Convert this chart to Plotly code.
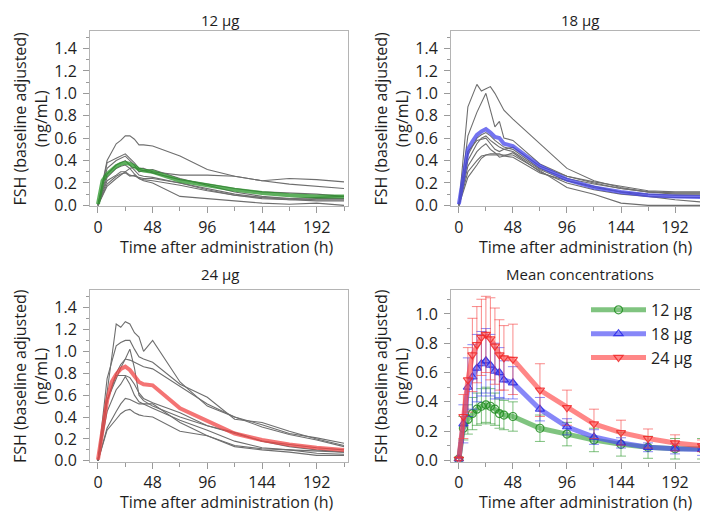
import plotly.graph_objects as go

# ---------------- data ----------------
# individual sampling times (h)
ind_times = [0, 8, 16, 20, 24, 28, 32, 36, 40, 48, 72, 96, 120, 144, 168, 192, 216]

subj_12 = [
    [0, 0.40, 0.55, 0.58, 0.62, 0.62, 0.59, 0.54, 0.54, 0.53, 0.44, 0.32, 0.26, 0.22, 0.19, 0.17, 0.15],
    [0, 0.38, 0.42, 0.44, 0.46, 0.42, 0.38, 0.33, 0.33, 0.30, 0.27, 0.27, 0.26, 0.22, 0.24, 0.23, 0.21],
    [0, 0.33, 0.40, 0.42, 0.44, 0.40, 0.36, 0.30, 0.31, 0.32, 0.24, 0.18, 0.12, 0.08, 0.06, 0.05, 0.05],
    [0, 0.28, 0.36, 0.38, 0.40, 0.36, 0.31, 0.27, 0.26, 0.25, 0.20, 0.15, 0.10, 0.07, 0.05, 0.04, 0.04],
    [0, 0.22, 0.27, 0.30, 0.30, 0.27, 0.26, 0.25, 0.24, 0.24, 0.20, 0.14, 0.09, 0.06, 0.05, 0.06, 0.06],
    [0, 0.17, 0.24, 0.27, 0.30, 0.33, 0.28, 0.24, 0.23, 0.22, 0.18, 0.13, 0.09, 0.07, 0.06, 0.07, 0.08],
    [0, 0.19, 0.26, 0.28, 0.29, 0.26, 0.27, 0.24, 0.22, 0.20, 0.08, 0.06, 0.04, 0.02, 0.01, 0.02, 0.00],
    [0, 0.25, 0.33, 0.35, 0.36, 0.33, 0.34, 0.32, 0.31, 0.29, 0.23, 0.19, 0.15, 0.12, 0.11, 0.10, 0.08],
]

subj_18 = [
    [0, 0.88, 1.08, 1.02, 1.04, 1.06, 1.00, 0.93, 0.85, 0.77, 0.55, 0.33, 0.22, 0.16, 0.12, 0.10, 0.10],
    [0, 0.62, 0.83, 0.92, 1.00, 0.85, 0.70, 0.75, 0.60, 0.58, 0.37, 0.26, 0.20, 0.15, 0.12, 0.11, 0.11],
    [0, 0.45, 0.60, 0.63, 0.65, 0.62, 0.58, 0.55, 0.52, 0.50, 0.33, 0.24, 0.19, 0.15, 0.12, 0.11, 0.11],
    [0, 0.40, 0.55, 0.60, 0.62, 0.58, 0.55, 0.52, 0.50, 0.48, 0.32, 0.22, 0.16, 0.12, 0.10, 0.09, 0.09],
    [0, 0.35, 0.48, 0.52, 0.55, 0.50, 0.47, 0.43, 0.44, 0.47, 0.30, 0.20, 0.14, 0.10, 0.08, 0.07, 0.07],
    [0, 0.30, 0.40, 0.44, 0.45, 0.45, 0.45, 0.45, 0.45, 0.45, 0.31, 0.16, 0.10, 0.02, 0.00, 0.00, 0.00],
    [0, 0.25, 0.36, 0.42, 0.45, 0.46, 0.46, 0.46, 0.44, 0.43, 0.29, 0.22, 0.17, 0.12, 0.08, 0.05, 0.03],
    [0, 0.48, 0.58, 0.59, 0.60, 0.55, 0.50, 0.48, 0.50, 0.52, 0.35, 0.26, 0.21, 0.17, 0.13, 0.12, 0.12],
]

subj_24 = [
    [0, 0.65, 1.25, 1.22, 1.27, 1.25, 1.17, 1.13, 1.00, 1.10, 0.72, 0.50, 0.40, 0.33, 0.25, 0.21, 0.16],
    [0, 0.75, 1.05, 1.08, 1.10, 1.10, 1.02, 0.95, 0.93, 0.90, 0.70, 0.58, 0.38, 0.35, 0.27, 0.20, 0.14],
    [0, 0.55, 0.75, 0.85, 0.93, 1.02, 0.85, 0.60, 0.55, 0.50, 0.40, 0.32, 0.25, 0.18, 0.15, 0.12, 0.10],
    [0, 0.55, 0.80, 0.88, 0.93, 0.92, 0.90, 0.88, 0.86, 0.84, 0.68, 0.52, 0.40, 0.31, 0.24, 0.19, 0.13],
    [0, 0.55, 0.78, 0.78, 0.78, 0.76, 0.70, 0.62, 0.57, 0.53, 0.44, 0.32, 0.26, 0.18, 0.13, 0.10, 0.08],
    [0, 0.45, 0.65, 0.70, 0.77, 0.70, 0.60, 0.54, 0.52, 0.48, 0.37, 0.28, 0.18, 0.12, 0.10, 0.07, 0.06],
    [0, 0.30, 0.45, 0.52, 0.57, 0.56, 0.54, 0.52, 0.52, 0.52, 0.35, 0.23, 0.14, 0.11, 0.10, 0.09, 0.08],
    [0, 0.28, 0.38, 0.43, 0.46, 0.47, 0.44, 0.42, 0.41, 0.40, 0.27, 0.23, 0.13, 0.10, 0.08, 0.05, 0.05],
]

# mean concentrations
mean_times = [0, 4, 8, 12, 16, 20, 24, 28, 32, 36, 40, 48, 72, 96, 120, 144, 168, 192, 216]
mean_12 = [0.01, 0.22, 0.28, 0.32, 0.35, 0.37, 0.38, 0.37, 0.35, 0.32, 0.31, 0.30, 0.22, 0.18, 0.14, 0.11, 0.09, 0.08, 0.08]
sd_12 = [0.01, 0.08, 0.10, 0.11, 0.11, 0.12, 0.12, 0.12, 0.11, 0.10, 0.10, 0.10, 0.09, 0.08, 0.08, 0.08, 0.075, 0.07, 0.07]
mean_18 = [0.01, 0.25, 0.50, 0.57, 0.63, 0.66, 0.68, 0.65, 0.61, 0.60, 0.55, 0.53, 0.35, 0.23, 0.16, 0.12, 0.09, 0.08, 0.075]
sd_18 = [0.01, 0.13, 0.20, 0.22, 0.23, 0.22, 0.22, 0.21, 0.19, 0.17, 0.13, 0.11, 0.08, 0.055, 0.05, 0.035, 0.03, 0.035, 0.04]
mean_24 = [0.01, 0.30, 0.55, 0.72, 0.79, 0.84, 0.86, 0.83, 0.78, 0.72, 0.70, 0.69, 0.48, 0.36, 0.25, 0.19, 0.15, 0.12, 0.10]
sd_24 = [0.01, 0.15, 0.22, 0.25, 0.26, 0.26, 0.26, 0.28, 0.26, 0.24, 0.22, 0.24, 0.18, 0.12, 0.10, 0.085, 0.065, 0.055, 0.04]

dose_labels = ["12 µg", "18 µg", "24 µg"]
panel_titles = ["12 µg", "18 µg", "24 µg", "Mean concentrations"]
x_ticks = [0, 48, 96, 144, 192]
x_title = "Time after administration (h)"
y_title = "FSH (baseline adjusted)<br>(ng/mL)"

# ---------------- styling ----------------
W, H = 708, 517
FONT = "Open Sans"
TXT = "#1e1e1e"
GRAY = "#6e6e6e"
ind_colors = ["rgba(40,150,40,0.75)", "rgba(70,70,235,0.75)", "rgba(240,70,70,0.75)"]
mean_line_colors = ["rgba(60,165,60,0.65)", "rgba(70,70,245,0.65)", "rgba(255,70,70,0.65)"]
mean_mark_colors = ["rgba(30,140,30,0.85)", "rgba(40,40,230,0.85)", "rgba(240,40,40,0.85)"]
err_colors = ["rgba(40,150,40,0.6)", "rgba(60,60,240,0.6)", "rgba(245,60,60,0.6)"]
symbols = ["circle-open", "triangle-up-open", "triangle-down-open"]

# panel boxes in pixels: (left, right, top, bottom)
boxes = [(82, 340, 23, 202), (443, 698, 23, 202), (82, 340, 287, 462), (443, 698, 287, 462)]
title_tops = [0, 0, 258, 258]

def px_x(v):
    return v / W

def px_y(v):
    return 1 - v / H

fig = go.Figure()

# individual panels
for k, subjects in enumerate([subj_12, subj_18, subj_24]):
    ax = "" if k == 0 else str(k + 1)
    for s in subjects:
        fig.add_trace(go.Scatter(
            x=ind_times, y=s, mode="lines",
            line=dict(color=GRAY, width=1.1),
            xaxis="x" + ax, yaxis="y" + ax, showlegend=False, hoverinfo="skip"))
    mean = [mean_12, mean_18, mean_24][k]
    fig.add_trace(go.Scatter(
        x=mean_times, y=mean, mode="lines",
        line=dict(color=ind_colors[k], width=4),
        xaxis="x" + ax, yaxis="y" + ax, showlegend=False, hoverinfo="skip"))

# mean panel
for k, (m, sd) in enumerate([(mean_12, sd_12), (mean_18, sd_18), (mean_24, sd_24)]):
    fig.add_trace(go.Scatter(
        x=mean_times, y=m, mode="lines+markers", name=dose_labels[k],
        line=dict(color=mean_line_colors[k], width=5),
        marker=dict(symbol=symbols[k], size=8, color=mean_mark_colors[k], line=dict(width=1.2)),
        error_y=dict(type="data", array=sd, visible=True, color=err_colors[k], thickness=1, width=5),
        xaxis="x4", yaxis="y4"))

axis_common = dict(
    showline=True, mirror=True, linecolor="#b4b4b4", linewidth=1,
    showgrid=False, zeroline=False, ticks="outside", tickcolor="#9a9a9a",
    ticklen=6, tickwidth=1, tickfont=dict(family=FONT, size=16, color=TXT),
)

layout = dict(
    width=W, height=H, margin=dict(l=0, r=0, t=0, b=0),
    paper_bgcolor="white", plot_bgcolor="white",
    font=dict(family=FONT, size=16, color=TXT),
    legend=dict(x=px_x(578), y=px_y(290), xanchor="left", yanchor="top",
                bgcolor="rgba(0,0,0,0)", font=dict(family=FONT, size=16, color=TXT),
                itemwidth=55, tracegroupgap=0),
    annotations=[],
)

for i, (l, r, t, b) in enumerate(boxes):
    sfx = "" if i == 0 else str(i + 1)
    yr = [-0.01, 1.56] if i < 3 else [-0.01, 1.163]
    ytv = [0, 0.2, 0.4, 0.6, 0.8, 1.0, 1.2, 1.4] if i < 3 else [0, 0.2, 0.4, 0.6, 0.8, 1.0]
    layout["xaxis" + sfx] = dict(
        axis_common, domain=[px_x(l), px_x(r)], range=[-7, 219.5],
        tickvals=x_ticks, anchor="y" + sfx,
        minor=dict(dtick=24, tick0=0, ticklen=4, tickcolor="#9a9a9a", ticks="outside", showgrid=False))
    layout["yaxis" + sfx] = dict(
        axis_common, domain=[px_y(b), px_y(t)], range=yr,
        tickvals=ytv, tickformat=".1f", anchor="x" + sfx, ticklabelstandoff=3,
        minor=dict(dtick=0.1, tick0=0, ticklen=3, tickcolor="#9a9a9a", ticks="outside", showgrid=False))
    # titles
    cx = (l + r) / 2
    layout["annotations"].append(dict(
        text=panel_titles[i], x=px_x(cx + 1), y=px_y(title_tops[i]), xref="paper", yref="paper",
        xanchor="center", yanchor="top", showarrow=False, font=dict(family=FONT, size=15, color=TXT)))
    layout["annotations"].append(dict(
        text=x_title, x=px_x(cx + 7), y=px_y(b + 41), xref="paper", yref="paper",
        xanchor="center", yanchor="middle", showarrow=False, font=dict(family=FONT, size=16, color=TXT)))
    layout["annotations"].append(dict(
        text=y_title, x=px_x(l - 59), y=px_y((t + b) / 2), xref="paper", yref="paper",
        xanchor="center", yanchor="middle", textangle=-90, showarrow=False,
        font=dict(family=FONT, size=16, color=TXT)))

fig.update_layout(**layout)
fig.write_html("out.html")
